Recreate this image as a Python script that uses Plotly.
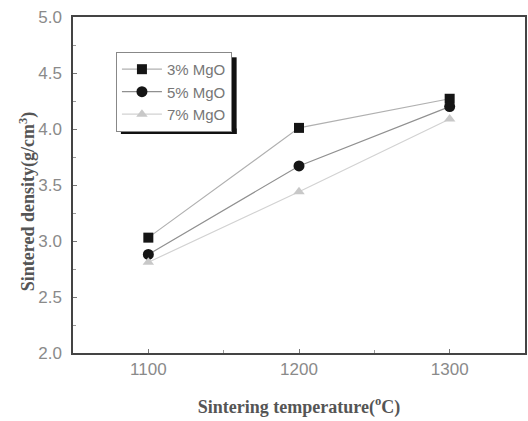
import plotly.graph_objects as go

temps = [1100, 1200, 1300]
mgo3 = [3.03, 4.01, 4.27]
mgo5 = [2.88, 3.67, 4.20]
mgo7 = [2.81, 3.44, 4.09]
names = ["3% MgO", "5% MgO", "7% MgO"]

fig = go.Figure()
fig.add_trace(go.Scatter(x=temps, y=mgo3, name=names[0], mode="lines+markers",
                         line=dict(color="#b0b0b0", width=1.2),
                         marker=dict(symbol="square", size=10, color="#151515")))
fig.add_trace(go.Scatter(x=temps, y=mgo5, name=names[1], mode="lines+markers",
                         line=dict(color="#909090", width=1.2),
                         marker=dict(symbol="circle", size=11, color="#151515")))
fig.add_trace(go.Scatter(x=temps, y=mgo7, name=names[2], mode="lines+markers",
                         line=dict(color="#d2d2d2", width=1.2),
                         marker=dict(symbol="triangle-up", size=10, color="#c8c8c8")))

axis_common = dict(showline=True, linecolor="#444", linewidth=1.5, mirror=True,
                   showgrid=False, zeroline=False, ticks="inside", ticklen=4,
                   tickcolor="#777", tickfont=dict(family="Liberation Sans", size=17, color="#8a8a8a"))

fig.update_xaxes(range=[1050, 1350], tickvals=temps, ticktext=[str(t) for t in temps],
                 minor=dict(ticks="inside", ticklen=3, tickcolor="#999", dtick=50, tick0=1050),
                 title=dict(text="<b>Sintering temperature(<sup>o</sup>C)</b>",
                            font=dict(family="Liberation Serif", size=18, color="#555"), standoff=22),
                 **axis_common)
fig.update_yaxes(range=[2.0, 5.0], dtick=0.5, tickformat=".1f", ticklabelstandoff=6,
                 minor=dict(ticks="inside", ticklen=3, tickcolor="#999", dtick=0.25),
                 **axis_common)

fig.add_annotation(text="<b>Sintered density(g/cm<sup>3</sup>)</b>", xref="paper", yref="paper",
                   x=-0.101, y=0.45, xanchor="center", yanchor="middle",
                   textangle=-90, showarrow=False,
                   font=dict(family="Liberation Serif", size=18, color="#555"))

# legend shadow (right bar and bottom bar)
fig.add_shape(type="rect", xref="x domain", yref="y domain",
              x0=0.350, x1=0.362, y0=0.652, y1=0.880,
              fillcolor="#111111", line=dict(width=0), layer="above")
fig.add_shape(type="rect", xref="x domain", yref="y domain",
              x0=0.106, x1=0.362, y0=0.652, y1=0.668,
              fillcolor="#111111", line=dict(width=0), layer="above")

fig.update_layout(
    width=528, height=421,
    margin=dict(l=73, r=1, t=17, b=68),
    paper_bgcolor="white", plot_bgcolor="white",
    legend=dict(x=0.095, y=0.896, xanchor="left", yanchor="top",
                bgcolor="white", bordercolor="#888", borderwidth=1,
                font=dict(family="Liberation Sans", size=15, color="#777"),
                itemwidth=40, tracegroupgap=0),
)

fig.write_html("out.html")
